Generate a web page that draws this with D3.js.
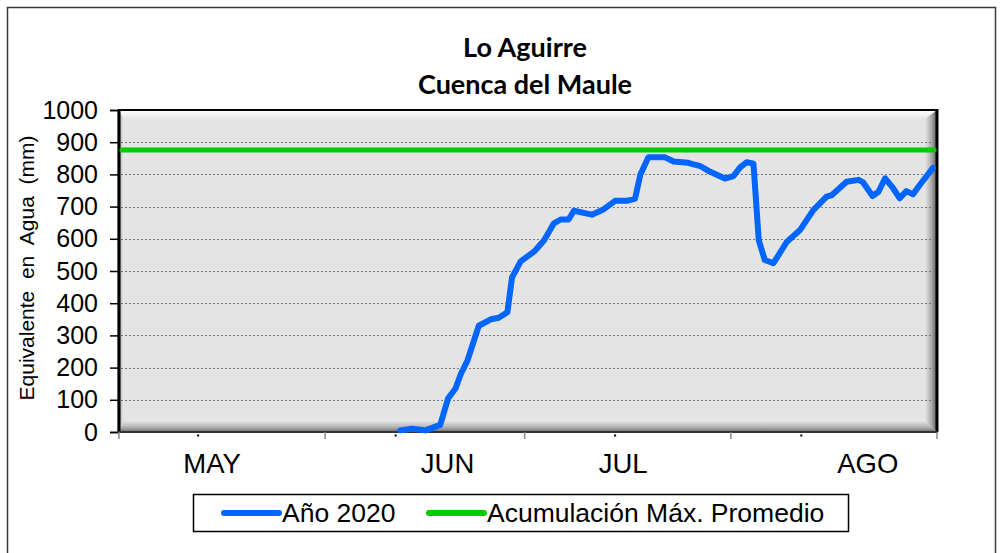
<!DOCTYPE html>
<html>
<head>
<meta charset="utf-8">
<script src="https://cdn.jsdelivr.net/npm/d3@7"></script>
<style>
  body { margin: 0; background: #fff; }
  svg { display: block; }
</style>
</head>
<body>
<div id="chart"><svg></svg></div>
<script>
// Datos: días desde el 1 de mayo y equivalente en agua (mm)
const dias = [42.3, 44.1, 46.1, 48.3, 49.5, 50.6, 51.4, 52.4, 54.1, 55.9, 57.1, 58.4, 59.1, 60.4,
  62.4, 63.9, 65.4, 66.4, 67.6, 68.4, 71.1, 72.9, 74.6, 76.4, 77.6, 78.4, 79.6, 82.1, 83.4,
  85.6, 87.4, 88.9, 91.1, 92.4, 93.4, 94.4, 95.4, 96.2, 97.1, 98.4, 100.4, 102.4, 104.4,
  106.4, 107.2, 109.4, 111.2, 111.9, 113.3, 114.2, 115.2, 116.4, 117.4, 118.4, 119.4,
  120.4, 122.4];
const valores2020 = [5, 10, 5, 22, 105, 135, 180, 222, 330, 350, 355, 372, 480, 530,
  560, 595, 648, 660, 660, 687, 675, 692, 718, 718, 725, 800, 853, 853, 840,
  836, 826, 808, 787, 795, 822, 838, 833, 596, 534, 524, 590, 627, 689,
  731, 736, 777, 783, 775, 733, 746, 788, 757, 726, 748, 738,
  767, 820];
const maxPromedio = 876;

const meses = ["MAY", "JUN", "JUL", "AGO"];
const diasEtiqueta = [14, 49.4, 75.8, 112.6];
const diasMenores = [11.9, 41.6, 74.6, 102.6];
const diasMarcas = [0, 31, 61, 92, 123];
const ticksY = d3.range(0, 1001, 100);

// Dimensiones
const width = 1001;
const height = 553;
const plot = { left: 119, top: 110, right: 937, bottom: 432 };
const fuente = "'Liberation Sans', Arial, sans-serif";

const svg = d3.select("#chart svg")
  .attr("width", width)
  .attr("height", height)
  .style("font-family", fuente);

const x = d3.scaleLinear().domain([0, 123]).range([plot.left, plot.right]);
const y = d3.scaleLinear().domain([0, 1000]).range([plot.bottom, plot.top]);

// Borde exterior
svg.append("rect")
  .attr("x", 7.5).attr("y", 7.5)
  .attr("width", 988).attr("height", 560)
  .attr("fill", "#fff")
  .attr("stroke", "#3a3a3a")
  .attr("stroke-width", 1.5);

// Gradientes del bisel
const defs = svg.append("defs");
function grad(id, x1, y1, x2, y2, stops) {
  const g = defs.append("linearGradient").attr("id", id)
    .attr("x1", x1).attr("y1", y1).attr("x2", x2).attr("y2", y2);
  stops.forEach(s => g.append("stop").attr("offset", s[0]).attr("stop-color", s[1]));
}
grad("gTop", 0, 0, 0, 1, [[0, "#ffffff"], [1, "#e6e6e6"]]);
grad("gBottom", 0, 0, 0, 1, [[0, "#e4e4e4"], [0.5, "#b8b8b8"], [1, "#6e6e6e"]]);
grad("gRight", 0, 0, 1, 0, [[0, "#e4e4e4"], [0.5, "#b0b0b0"], [1, "#5a5a5a"]]);
grad("gLeft", 0, 0, 1, 0, [[0, "#9a9a9a"], [1, "#e4e4e4"]]);

const bt = 9, bb = 11, br = 12, bl = 4;
const L = plot.left, T = plot.top, R = plot.right, B = plot.bottom;

svg.append("rect")
  .attr("x", L).attr("y", T)
  .attr("width", R - L).attr("height", B - T)
  .attr("fill", "#e4e4e4");

svg.append("polygon")
  .attr("points", [[L, T], [R, T], [R - br, T + bt], [L + bl, T + bt]].join(" "))
  .attr("fill", "url(#gTop)");
svg.append("polygon")
  .attr("points", [[L, B], [R, B], [R - br, B - bb], [L + bl, B - bb]].join(" "))
  .attr("fill", "url(#gBottom)");
svg.append("polygon")
  .attr("points", [[R, T], [R, B], [R - br, B - bb], [R - br, T + bt]].join(" "))
  .attr("fill", "url(#gRight)");
svg.append("polygon")
  .attr("points", [[L, T], [L, B], [L + bl, B - bb], [L + bl, T + bt]].join(" "))
  .attr("fill", "url(#gLeft)");

// Líneas de grilla
svg.append("g")
  .selectAll("line")
  .data(ticksY.filter(d => d > 0 && d < 1000))
  .enter()
  .append("line")
  .attr("x1", L + 2).attr("x2", R - 2)
  .attr("y1", d => Math.round(y(d)) + 0.5)
  .attr("y2", d => Math.round(y(d)) + 0.5)
  .attr("stroke", "#7a7a7a")
  .attr("stroke-width", 1)
  .attr("stroke-dasharray", "2,2");

// Marco del área de trazado
svg.append("line")
  .attr("x1", L - 1).attr("x2", R + 1).attr("y1", T).attr("y2", T)
  .attr("stroke", "#000").attr("stroke-width", 2);
svg.append("line")
  .attr("x1", L).attr("x2", L).attr("y1", T).attr("y2", B)
  .attr("stroke", "#000").attr("stroke-width", 3);
svg.append("line")
  .attr("x1", R).attr("x2", R).attr("y1", T - 1).attr("y2", B)
  .attr("stroke", "#000").attr("stroke-width", 3);

// Eje Y
const yAxis = svg.append("g")
  .attr("transform", `translate(${L - 1},0)`)
  .call(d3.axisLeft(y).tickValues(ticksY).tickFormat(d3.format("d")).tickSize(8).tickPadding(12));
yAxis.select(".domain").attr("stroke", "#000").attr("stroke-width", 1.5);
yAxis.selectAll(".tick line").attr("stroke", "#000").attr("stroke-width", 1.5);
yAxis.selectAll(".tick text")
  .attr("fill", "#000")
  .style("font-size", "25px")
  .style("font-family", fuente);

// Eje X
svg.append("line")
  .attr("x1", L - 1).attr("x2", R + 1).attr("y1", B).attr("y2", B)
  .attr("stroke", "#333").attr("stroke-width", 2);

svg.append("g")
  .selectAll("line")
  .data(diasMarcas)
  .enter()
  .append("line")
  .attr("x1", d => x(d)).attr("x2", d => x(d))
  .attr("y1", B).attr("y2", B + 7)
  .attr("stroke", "#888").attr("stroke-width", 1.5);

svg.append("g")
  .selectAll("rect")
  .data(diasMenores)
  .enter()
  .append("rect")
  .attr("x", d => x(d) - 1).attr("y", B + 2.5)
  .attr("width", 2).attr("height", 2)
  .attr("fill", "#000");

svg.append("g")
  .selectAll("text")
  .data(meses)
  .enter()
  .append("text")
  .attr("x", (d, i) => x(diasEtiqueta[i]))
  .attr("y", 473)
  .attr("text-anchor", "middle")
  .style("font-size", "27.5px")
  .text(d => d);

// Título del eje Y
svg.append("text")
  .attr("transform", "translate(34,268) rotate(-90)")
  .attr("text-anchor", "middle")
  .style("font-size", "21px")
  .style("white-space", "pre")
  .text("Equivalente  en  Agua  (mm)");

// Título
svg.append("text")
  .attr("x", 525).attr("y", 57)
  .attr("text-anchor", "middle")
  .style("font-family", "Lato, 'Open Sans', sans-serif")
  .style("font-weight", "bold")
  .style("font-size", "27px")
  .text("Lo Aguirre");
svg.append("text")
  .attr("x", 525).attr("y", 94)
  .attr("text-anchor", "middle")
  .style("font-family", "Lato, 'Open Sans', sans-serif")
  .style("font-weight", "bold")
  .style("font-size", "27px")
  .text("Cuenca del Maule");

// Acumulación máxima promedio
svg.append("line")
  .attr("x1", x(0) + 3).attr("x2", x(123) - 3)
  .attr("y1", y(maxPromedio)).attr("y2", y(maxPromedio))
  .attr("stroke", "#00cc00")
  .attr("stroke-width", 5)
  .attr("stroke-linecap", "round");

// Serie año 2020
const line = d3.line()
  .x(d => x(d[0]))
  .y(d => y(d[1]));

svg.append("path")
  .datum(dias.map((d, i) => [d, valores2020[i]]))
  .attr("fill", "none")
  .attr("stroke", "#0066ff")
  .attr("stroke-width", 6)
  .attr("stroke-linejoin", "round")
  .attr("stroke-linecap", "round")
  .attr("d", line);

// Leyenda
const legend = svg.append("g");
legend.append("rect")
  .attr("x", 193.5).attr("y", 494.5)
  .attr("width", 655).attr("height", 37)
  .attr("fill", "#fff")
  .attr("stroke", "#000")
  .attr("stroke-width", 1.5);

const legendItems = [
  { label: "Año 2020", color: "#0066ff", x0: 224 },
  { label: "Acumulación Máx. Promedio", color: "#00cc00", x0: 429 }
];
legendItems.forEach(it => {
  legend.append("line")
    .attr("x1", it.x0).attr("x2", it.x0 + 55)
    .attr("y1", 513).attr("y2", 513)
    .attr("stroke", it.color)
    .attr("stroke-width", 6)
    .attr("stroke-linecap", "round");
  legend.append("text")
    .attr("x", it.x0 + 58).attr("y", 522)
    .style("font-size", "26.5px")
    .text(it.label);
});
</script>
</body>
</html>
